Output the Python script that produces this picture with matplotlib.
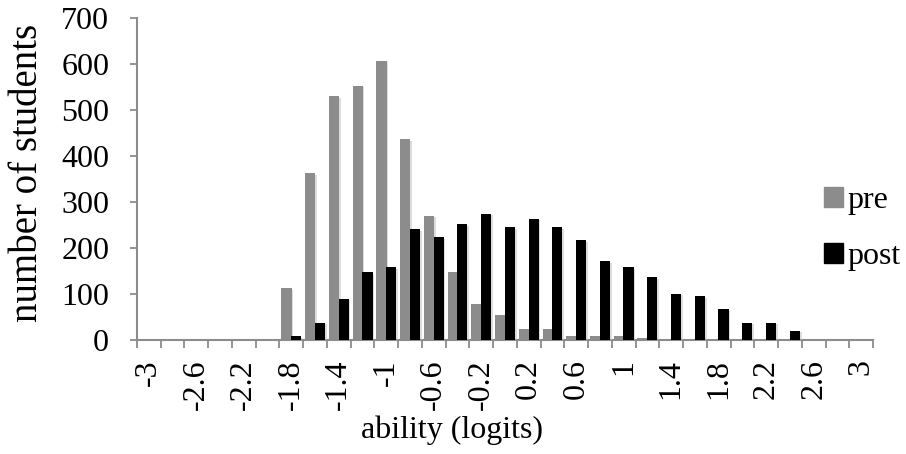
import matplotlib
matplotlib.use("Agg")
import matplotlib.pyplot as plt
import numpy as np
from matplotlib.patches import Patch
import matplotlib.patheffects as pe

categories = ["-3", "-2.8", "-2.6", "-2.4", "-2.2", "-2", "-1.8", "-1.6", "-1.4", "-1.2",
              "-1", "-0.8", "-0.6", "-0.4", "-0.2", "0", "0.2", "0.4", "0.6", "0.8",
              "1", "1.2", "1.4", "1.6", "1.8", "2", "2.2", "2.4", "2.6", "2.8", "3"]
pre = [0, 0, 0, 0, 0, 0, 112, 362, 530, 553,
       607, 437, 270, 148, 78, 55, 25, 25, 8, 8,
       8, 4, 0, 0, 0, 0, 0, 0, 0, 0, 0]
post = [0, 0, 0, 0, 0, 0, 8, 38, 90, 148,
        159, 241, 223, 252, 275, 246, 264, 246, 217, 171,
        159, 136, 101, 96, 67, 38, 38, 20, 0, 0, 0]

plt.rcParams['font.family'] = ['Liberation Serif', 'DejaVu Serif']
fs = 23

fig = plt.figure(figsize=(9.06, 4.54), dpi=100)
ax = fig.add_axes([137/906, 1 - 340/454, (873-137)/906, (340-18)/454])

x = np.arange(len(categories))
w = 0.43
grey = '#8c8c8c'
shadow = [pe.SimplePatchShadow(offset=(1.2, -1.2), shadow_rgbFace='#bbbbbb', alpha=0.5), pe.Normal()]
bp = ax.bar(x - w/2 + 0.01, pre, width=w, color=grey, label='pre', zorder=2)
bq = ax.bar(x + w/2 - 0.01, post, width=w, color='black', label='post', zorder=3)
for b in list(bp) + list(bq):
    if b.get_height() > 0:
        b.set_path_effects(shadow)

ax.set_xlim(-0.5, len(categories) - 0.5)
ax.set_ylim(0, 700)
ax.set_yticks(range(0, 701, 100))
ax.tick_params(axis='y', labelsize=fs, direction='out', length=5, width=1.3, color='#8c8c8c', pad=15)

# category ticks between categories, labels every other category
ax.set_xticks(np.arange(-0.5, len(categories), 1.0))
ax.set_xticklabels([])
ax.set_xticks(x[::2], minor=True)
ax.set_xticklabels(categories[::2], minor=True, rotation=90, fontsize=fs)
ax.tick_params(axis='x', which='major', direction='out', length=6, width=1.3, color='#8c8c8c')
ax.tick_params(axis='x', which='minor', length=0, pad=14)

for s in ['top', 'right']:
    ax.spines[s].set_visible(False)
for s in ['left', 'bottom']:
    ax.spines[s].set_color('#8c8c8c')
    ax.spines[s].set_linewidth(1.5)

fig.text(28/906, 1 - 173/454, 'number of students', fontsize=28, rotation=90,
         ha='center', va='center')
fig.text(452/906, 1 - 430/454, 'ability (logits)', fontsize=fs,
         ha='center', va='center')

handles = [Patch(color=grey, label='pre'), Patch(color='black', label='post')]
fig.legend(handles=handles, loc='upper left', bbox_to_anchor=(824/906, 1 - 186/454),
           frameon=False, fontsize=fs, handlelength=0.6, handleheight=0.6,
           handletextpad=0.15, labelspacing=0.86, borderaxespad=0, borderpad=0)

fig.savefig('out.png', dpi=100)
